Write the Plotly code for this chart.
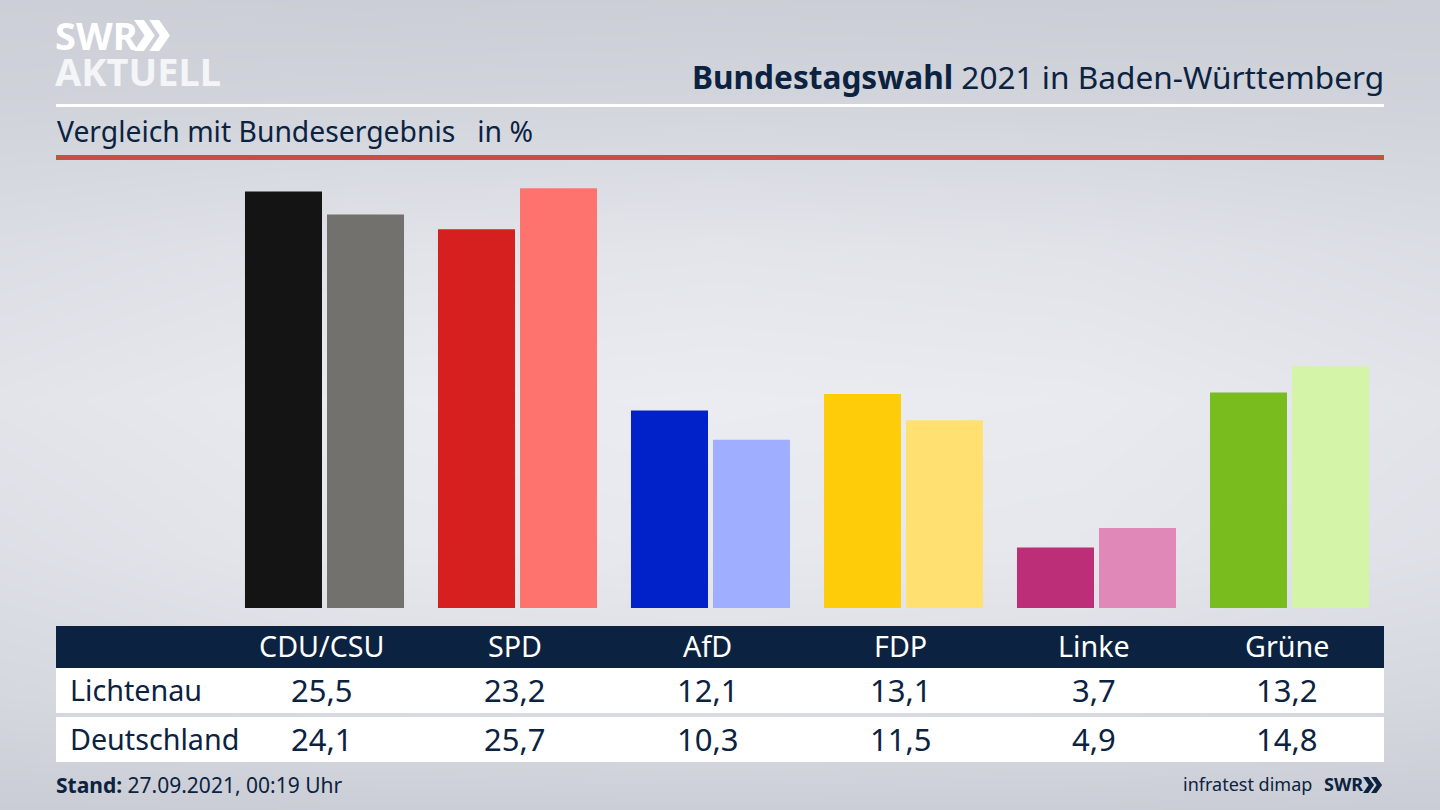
import plotly.graph_objects as go

parties = ["CDU/CSU", "SPD", "AfD", "FDP", "Linke", "Grüne"]
lichtenau = [25.5, 23.2, 12.1, 13.1, 3.7, 13.2]
deutschland = [24.1, 25.7, 10.3, 11.5, 4.9, 14.8]
colors_lichtenau = ["#141414", "#d61f1f", "#0022c8", "#ffcc0a", "#bc2e78", "#78bc1e"]
colors_deutschland = ["#73716e", "#ff736e", "#a0aeff", "#ffe070", "#e088b8", "#d4f5a8"]

NAVY = "#0b2240"
FONT = "Noto Sans"
W, H = 1440, 810


def px(x):
    return x / W


def py(y):
    return 1 - y / H


def de(v):
    return f"{v:.1f}".replace(".", ",")


fig = go.Figure()

# background gradient
bg_y = [0, 100, 250, 400, 550, 700, 810]
bg_x = [0, 360, 720, 1080, 1440]
bg_z = [
    [0.10, 0.06, 0.08, 0.06, 0.08],
    [0.20, 0.25, 0.28, 0.25, 0.20],
    [0.55, 0.72, 0.78, 0.72, 0.55],
    [0.75, 0.95, 1.00, 0.95, 0.75],
    [0.60, 0.85, 0.90, 0.85, 0.65],
    [0.35, 0.50, 0.55, 0.50, 0.35],
    [0.02, 0.05, 0.06, 0.05, 0.02],
]
fig.add_trace(go.Heatmap(x=bg_x, y=bg_y, z=bg_z, zmin=0, zmax=1, zsmooth="best", showscale=False,
                         colorscale=[[0, "#c9ccd4"], [1, "#eaecf1"]], hoverinfo="skip",
                         xaxis="x", yaxis="y"))

fig.add_trace(go.Bar(x=parties, y=lichtenau, name="Lichtenau", marker=dict(color=colors_lichtenau, line_width=0),
                     xaxis="x2", yaxis="y2"))
fig.add_trace(go.Bar(x=parties, y=deutschland, name="Deutschland", marker=dict(color=colors_deutschland, line_width=0),
                     xaxis="x2", yaxis="y2"))

shapes = []


def rect(x0, y0, x1, y1, color):
    shapes.append(dict(type="rect", xref="paper", yref="paper", x0=px(x0), x1=px(x1), y0=py(y0), y1=py(y1),
                       fillcolor=color, line_width=0, layer="above"))


rect(56, 104, 1384, 107, "#ffffff")
rect(56, 155, 1384, 160, "#c8503f")
rect(56, 626, 1384, 668, NAVY)
rect(56, 668, 1384, 713, "#ffffff")
rect(56, 717, 1384, 762, "#ffffff")


def chevrons(x, y, h, color, w):
    for dx in (0, w * 0.95):
        pts = [(x + dx, y), (x + dx + w * 0.62, y), (x + dx + w * 1.3, y + h / 2), (x + dx + w * 0.62, y + h),
               (x + dx, y + h), (x + dx + w * 0.66, y + h / 2)]
        path = "M " + " L ".join(f"{px(a):.5f},{py(b):.5f}" for a, b in pts) + " Z"
        shapes.append(dict(type="path", xref="paper", yref="paper", path=path, fillcolor=color, line_width=0))


chevrons(134, 20, 31, "#ffffff", 16)
chevrons(1363, 777, 16, NAVY, 8.5)

ann = []


def text(x, y, s, size, color=NAVY, anchor="left", font=FONT, height=None):
    d = dict(xref="paper", yref="paper", x=px(x), y=py(y), text=s, showarrow=False, xanchor=anchor,
             yanchor="middle", font=dict(family=font, size=size, color=color), borderpad=0, borderwidth=0)
    if height:
        d["height"] = height
    ann.append(d)


text(1384, 76.5, "<b>Bundestagswahl</b> 2021 in Baden-Württemberg", 31.6, anchor="right")
text(56.5, 131.5, "Vergleich mit Bundesergebnis   in %", 28.3)
text(55, 35, "<b>SWR</b>", 38, "#ffffff", height=32)
text(55, 71, "<b>AKTUELL</b>", 38, "#f4f5f7", height=32)
text(70, 689, "Lichtenau", 28.7)
text(70, 738, "Deutschland", 28.7)
text(56, 785, "<b>Stand:</b> 27.09.2021, 00:19 Uhr", 21)
text(1312, 784, "infratest dimap", 18, anchor="right")
text(1324, 784, "<b>SWR</b>", 18)

label_x = [321.5, 514.5, 707.5, 900.5, 1094, 1287]
for cx, p, a, b in zip(label_x, parties, lichtenau, deutschland):
    text(cx, 645.5, p, 28.7, "#ffffff", "center")
    text(cx, 690, de(a), 31, anchor="center")
    text(cx, 739, de(b), 31, anchor="center")

hidden = dict(visible=False, showgrid=False, zeroline=False, fixedrange=True)
fig.update_layout(
    width=W, height=H, margin=dict(l=0, r=0, t=0, b=0), autosize=False, showlegend=False,
    paper_bgcolor="#dcdee4", plot_bgcolor="rgba(0,0,0,0)",
    barmode="group", bargap=0.15, bargroupgap=0.061,
    xaxis=dict(domain=[0, 1], range=[0, 1440], **hidden),
    yaxis=dict(domain=[0, 1], range=[810, 0], **hidden),
    xaxis2=dict(domain=[px(228), px(1386)], anchor="y2", type="category", categoryorder="array",
                categoryarray=parties, range=[-0.5, 5.5], **hidden),
    yaxis2=dict(domain=[py(608), py(165)], anchor="x2", range=[0, 27.13], **hidden),
    shapes=shapes, annotations=ann,
)
fig.write_html("out.html", config=dict(displayModeBar=False), default_width="1440px", default_height="810px",
               post_script="document.body.style.margin='0';document.documentElement.style.overflow='hidden';")
